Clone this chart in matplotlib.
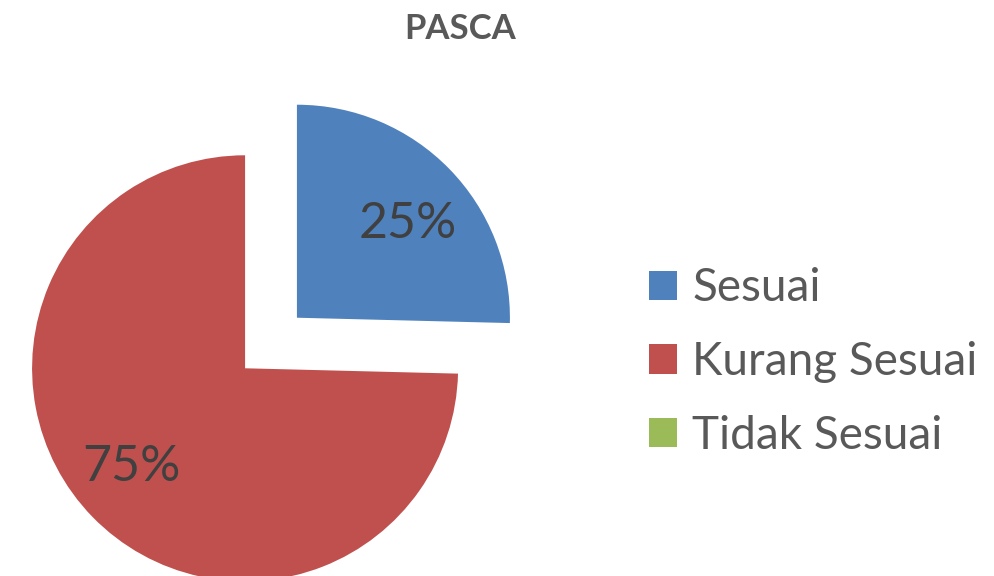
import matplotlib
matplotlib.use("Agg")
import matplotlib.pyplot as plt
from matplotlib.transforms import offset_copy

categories = ["Sesuai", "Kurang Sesuai", "Tidak Sesuai"]
values = [25.4, 74.6, 0.0]
colors = ["#4F81BD", "#C0504D", "#9BBB59"]
title = "PASCA"

plt.rcParams['font.family'] = ['Lato', 'DejaVu Sans']

W, H, DPI = 995, 576, 100
fig = plt.figure(figsize=(W / DPI, H / DPI), dpi=DPI)
ax = fig.add_axes([0, 0, 1, 1])

R = 213.0
cx, cy = 271.0, 343.0  # pixel centre (from top)

wedges, texts, autotexts = ax.pie(
    values, colors=colors, startangle=90, counterclock=False,
    explode=[0.17, 0.17, 0.0], radius=1.0,
    autopct=lambda p: f"{p:.0f}%" if p > 0 else "",
    pctdistance=0.69,
    textprops=dict(color="#404040", fontsize=36),
    wedgeprops=dict(linewidth=0),
)
ax.set_aspect('auto')
ax.set_xlim(-cx / R, (W - cx) / R)
ax.set_ylim(-(H - cy) / R, cy / R)
ax.axis('off')

# small label nudges (pixels) to match reference placement
nudges = [(6, -9), (-8, 4), (0, 0)]
for t, (dx, dy) in zip(autotexts, nudges):
    t.set_transform(offset_copy(ax.transData, fig=fig, x=dx, y=dy, units='dots'))

fig.text(460 / W, 1 - 29 / H, title, ha='center', va='center',
         fontsize=25, fontweight='bold', color='#595959')

leg = fig.legend(wedges, categories, loc='center left',
                 bbox_to_anchor=(649 / W, 1 - 362 / H),
                 frameon=False, fontsize=33, labelcolor='#595959',
                 handlelength=0.61, handleheight=0.61, handletextpad=0.33,
                 labelspacing=0.69, borderpad=0, borderaxespad=0)

fig.savefig("out.png", dpi=DPI)
